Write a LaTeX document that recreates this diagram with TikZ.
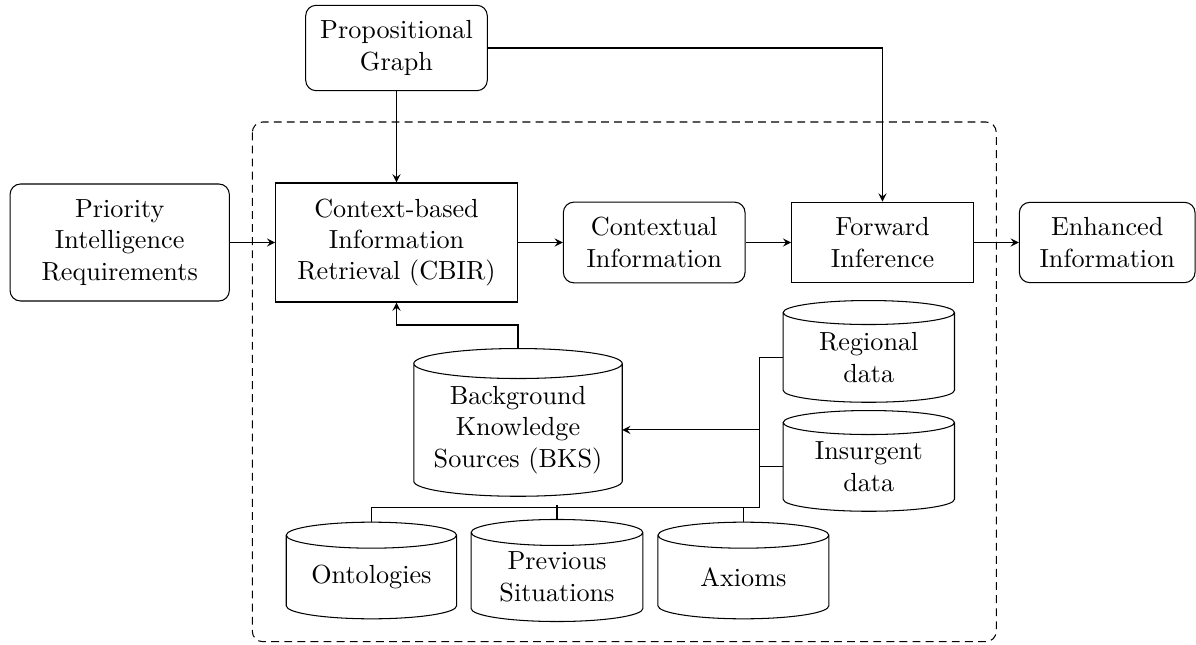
\documentclass[tikz,border=0pt]{standalone}
\usetikzlibrary{calc}
\newcommand\pxl[1]{#1*0.382pt}
\tikzset{
  rbox/.style={draw, rounded corners=4pt, align=center, inner sep=1pt},
  sbox/.style={draw, align=center, inner sep=1pt},
  cylbox/.style={align=center, inner sep=1pt},
  conn/.style={draw},
}
\newcommand\drawcyl[2]{%
  \draw let \p1=(#1.north west), \p2=(#1.south east),
    \n1={(\x2-\x1)/2}, \n2={#2*0.382} in
    (\x1,\y1) -- (\x1,\y2+\n2*1pt)
    arc[start angle=180,end angle=360,x radius=\n1*1pt,y radius=\n2*1pt]
    -- (\x2,\y1)
    arc[start angle=0,end angle=360,x radius=\n1*1pt,y radius=\n2*1pt];}
\begin{document}
\begin{tikzpicture}[x=0.382pt, y=-0.382pt, >=stealth]
\useasboundingbox (0,0) rectangle (1196,645);
% frame
\draw[densely dashed, rounded corners=4pt] (252.3,122) rectangle (996.3,641.7);
% boxes
\node[rbox, minimum width=\pxl{181.6}, minimum height=\pxl{85.4}] (prop) at (396.5,48) {Propositional\\Graph};
\node[sbox, minimum width=\pxl{241.6}, minimum height=\pxl{119}] (cbir) at (396.5,242.5) {Context-based\\Information\\Retrieval (CBIR)};
\node[rbox, minimum width=\pxl{219.3}, minimum height=\pxl{117}] (pir) at (119.7,242.5) {Priority\\Intelligence\\Requirements};
\node[rbox, minimum width=\pxl{181.7}, minimum height=\pxl{80.7}] (ctx) at (654.2,242.5) {Contextual\\Information};
\node[sbox, minimum width=\pxl{181.6}, minimum height=\pxl{80.7}] (fwd) at (882.5,242.5) {Forward\\Inference};
\node[rbox, minimum width=\pxl{175.7}, minimum height=\pxl{80.3}] (enh) at (1107.2,242.5) {Enhanced\\Information};
% cylinders
\node[cylbox, minimum width=\pxl{207.4}, minimum height=\pxl{131.7}] (bks) at (518,429.9) {Background\\Knowledge\\Sources (BKS)};
\node[cylbox, minimum width=\pxl{170.3}, minimum height=\pxl{88.7}] (reg) at (868.8,357.4) {Regional\\data};
\node[cylbox, minimum width=\pxl{170.3}, minimum height=\pxl{87.7}] (ins) at (868.8,466.9) {Insurgent\\data};
\node[cylbox, minimum width=\pxl{169.3}, minimum height=\pxl{82.6}] (ont) at (371.4,577) {Ontologies};
\node[cylbox, minimum width=\pxl{170.7}, minimum height=\pxl{88}] (prev) at (557,577) {Previous\\Situations};
\node[cylbox, minimum width=\pxl{169.9}, minimum height=\pxl{82.6}] (axi) at (743.4,577) {Axioms};
\drawcyl{bks}{15}
\drawcyl{reg}{12}
\drawcyl{ins}{12}
\drawcyl{ont}{13}
\drawcyl{prev}{13}
\drawcyl{axi}{13}
% connectors
\draw[->] (prop.south) -- (cbir.north);
\draw[->] (prop.east) -| (fwd.north);
\draw[->] (pir.east) -- (cbir.west);
\draw[->] (cbir.east) -- (ctx.west);
\draw[->] (ctx.east) -- (fwd.west);
\draw[->] (fwd.east) -- (enh.west);
\coordinate (bend) at (518,325);
\draw[->] ([yshift=\pxl{15}]bks.north) -- (bend) -| (cbir.south);
\coordinate (bj) at (759.9,507.3);
\coordinate (pv) at (557,505);
\draw (reg.west) -| (bj) -- (ont.north |- bj) -- ([yshift=\pxl{13}]ont.north);
\draw (ins.west) -- (ins.west -| bj);
\draw[->] (bks.east -| bj) -- (bks.east);
\draw ([yshift=\pxl{13}]prev.north) -- (prev.north |- pv);
\draw ([yshift=\pxl{13}]axi.north) -- (axi.north |- bj);
\end{tikzpicture}
\end{document}
